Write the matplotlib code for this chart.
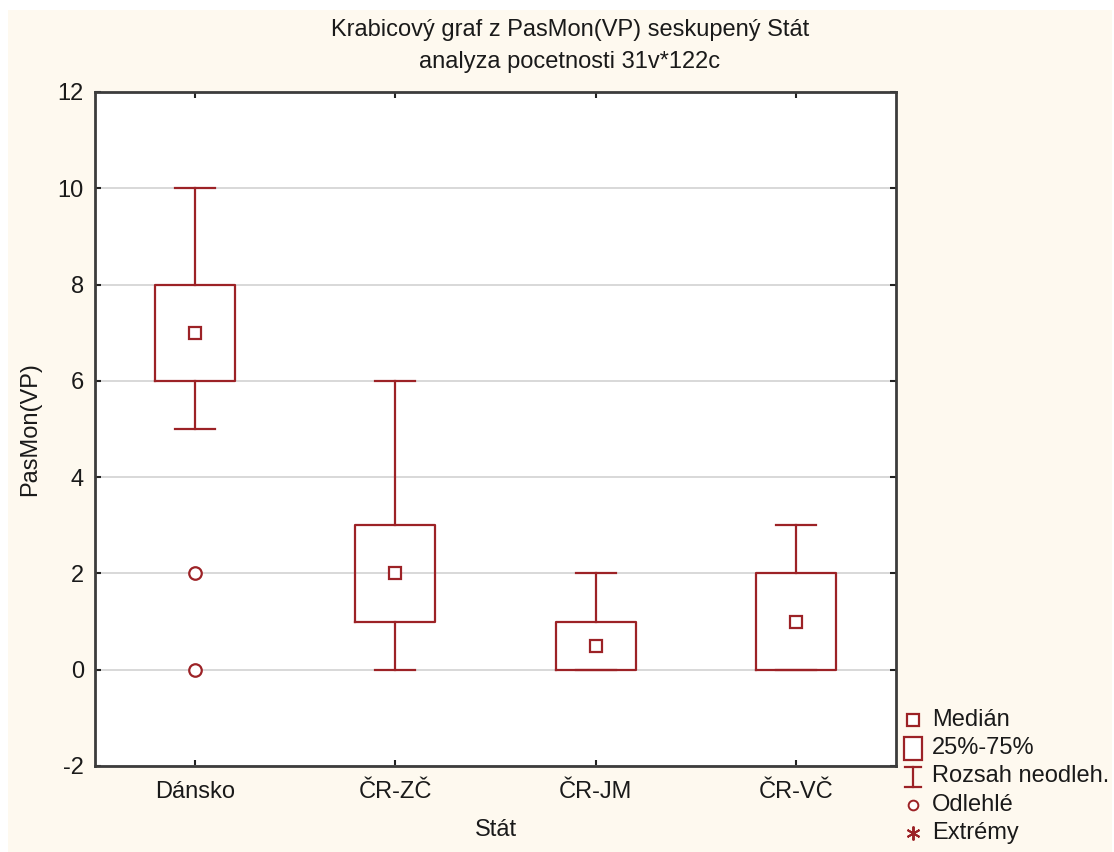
import matplotlib
matplotlib.use("Agg")
import matplotlib.pyplot as plt
from matplotlib.patches import Rectangle
from matplotlib.lines import Line2D

plt.rcParams['font.family'] = ['Liberation Sans', 'DejaVu Sans']

categories = ['Dánsko', 'ČR-ZČ', 'ČR-JM', 'ČR-VČ']
medians = [7, 2, 0.5, 1]
q1 = [6, 1, 0, 0]
q3 = [8, 3, 1, 2]
whisk_lo = [5, 0, 0, 0]
whisk_hi = [10, 6, 2, 3]
outliers = [[2, 0], [], [], []]
y_ticks = [-2, 0, 2, 4, 6, 8, 10, 12]

title1 = 'Krabicový graf z PasMon(VP) seskupený Stát'
title2 = 'analyza pocetnosti 31v*122c'
xlabel = 'Stát'
ylabel = 'PasMon(VP)'
legend_labels = ['Medián', '25%-75%', 'Rozsah neodleh.', 'Odlehlé', 'Extrémy']

RED = '#9c2226'
CREAM = '#fef9ef'
FS = 17

W, H = 1114, 852
fig = plt.figure(figsize=(W / 100, H / 100), dpi=100, facecolor='white')
fig.patches.append(Rectangle((8 / W, 0), (1112 - 8) / W, (852 - 10) / H,
                             transform=fig.transFigure, facecolor=CREAM,
                             edgecolor='none', zorder=-10))

ax = fig.add_axes([95 / W, (H - 766) / H, (896 - 95) / W, (766 - 92) / H])
ax.set_facecolor('white')

positions = list(range(1, len(categories) + 1))
stats = []
for i in range(len(categories)):
    stats.append(dict(med=medians[i], q1=q1[i], q3=q3[i],
                      whislo=whisk_lo[i], whishi=whisk_hi[i], fliers=[]))

ax.bxp(stats, positions=positions, widths=0.4, showfliers=False,
       boxprops=dict(color=RED, linewidth=1.6),
       whiskerprops=dict(color=RED, linewidth=1.6),
       capprops=dict(color=RED, linewidth=1.6),
       medianprops=dict(linewidth=0),
       capwidths=0.2, zorder=3)

ax.plot(positions, medians, linestyle='none', marker='s', markersize=8,
        markerfacecolor='white', markeredgecolor=RED, markeredgewidth=1.6,
        zorder=4)

for p, outs in zip(positions, outliers):
    if outs:
        ax.plot([p] * len(outs), outs, linestyle='none', marker='o',
                markersize=9, markerfacecolor='white', markeredgecolor=RED,
                markeredgewidth=1.6, zorder=4)

ax.set_xlim(0.5, len(categories) + 0.5)
ax.set_ylim(-2, 12)
ax.set_yticks(y_ticks)
ax.set_yticklabels([str(t) for t in y_ticks])
ax.set_xticks(positions)
ax.set_xticklabels(categories)
ax.yaxis.grid(True, color='#d8d8d8', linewidth=1.4, zorder=0)
ax.set_axisbelow(True)
ax.tick_params(axis='both', direction='in', length=4, width=1.5,
               colors='#222222', labelsize=FS, labelcolor='#1a1a1a')
ax.tick_params(axis='x', top=True, pad=11)
ax.tick_params(axis='y', right=True, pad=8)
for s in ax.spines.values():
    s.set_color('#3c3c3c')
    s.set_linewidth(2)

ax.set_xlabel(xlabel, fontsize=FS, color='#1a1a1a', labelpad=11)
ax.set_ylabel(ylabel, fontsize=FS, color='#1a1a1a', labelpad=12)

fig.text(570 / W, 1 - 30 / H, title1, ha='center', va='center', fontsize=FS,
         color='#1a1a1a')
fig.text(570 / W, 1 - 62 / H, title2, ha='center', va='center', fontsize=FS,
         color='#1a1a1a')

# Legend (outside, bottom right)
rows_y = [720, 748, 776, 805, 833]
mx = 913 / W
tx = 932 / W
for lab, yy in zip(legend_labels, rows_y):
    fig.text(tx, 1 - yy / H, lab, ha='left', va='center', fontsize=FS,
             color='#1a1a1a')
# Median symbol
fig.add_artist(Line2D([mx], [1 - rows_y[0] / H], marker='s', markersize=8,
                      markerfacecolor='white', markeredgecolor=RED,
                      markeredgewidth=1.6, linestyle='none'))
# Box symbol
fig.patches.append(Rectangle((904 / W, 1 - 760 / H), 18 / W, 23 / H,
                             transform=fig.transFigure, facecolor='white',
                             edgecolor=RED, linewidth=1.6))
# Whisker symbol
fig.add_artist(Line2D([mx, mx], [1 - 767 / H, 1 - 787 / H], color=RED, lw=1.6))
fig.add_artist(Line2D([905 / W, 921 / W], [1 - 767 / H, 1 - 767 / H], color=RED, lw=1.6))
fig.add_artist(Line2D([905 / W, 921 / W], [1 - 787 / H, 1 - 787 / H], color=RED, lw=1.6))
# Outlier symbol
fig.add_artist(Line2D([mx], [1 - rows_y[3] / H], marker='o', markersize=7,
                      markerfacecolor='white', markeredgecolor=RED,
                      markeredgewidth=1.4, linestyle='none'))
# Extreme symbol
fig.add_artist(Line2D([mx], [1 - rows_y[4] / H], marker=(6, 2, 0), markersize=10,
                      markeredgecolor=RED, markeredgewidth=1.4, linestyle='none'))

fig.savefig('out.png', dpi=100, facecolor='white')
